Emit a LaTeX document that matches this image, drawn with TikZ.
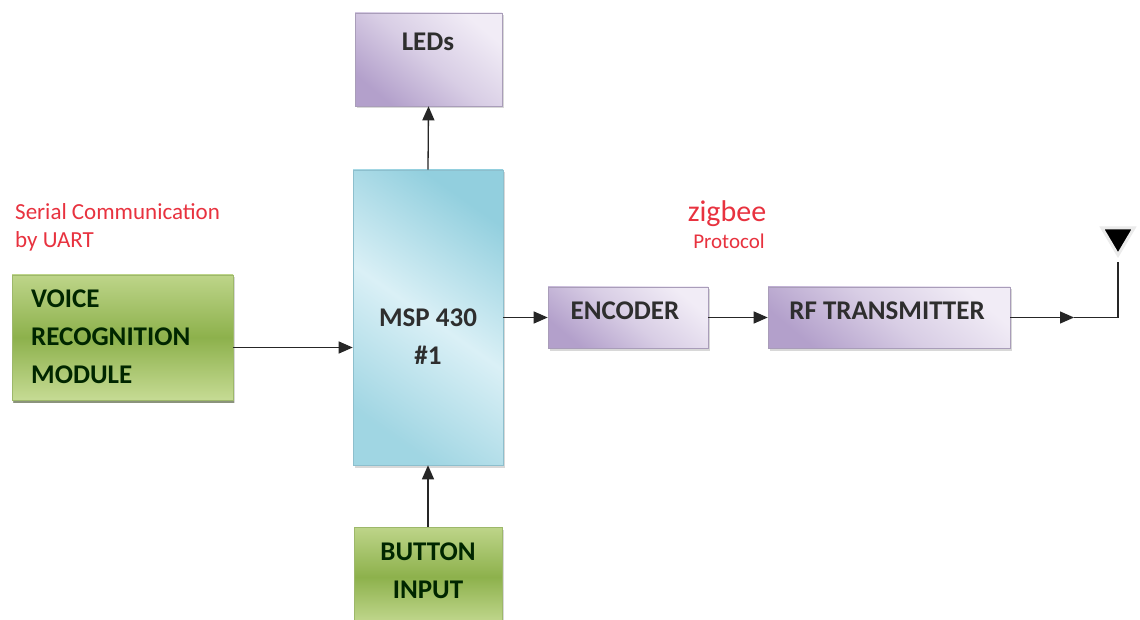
\documentclass[tikz,border=0pt]{standalone}
\usepackage{fontspec}
\setmainfont{Carlito}
\usetikzlibrary{arrows.meta,shadows}
\definecolor{purpEdge}{HTML}{B3A0CB}
\definecolor{purpIn}{HTML}{F1ECF6}
\definecolor{purpLine}{HTML}{A99DB9}
\definecolor{grnA}{HTML}{8DB14C}
\definecolor{grnB}{HTML}{C6DB94}
\definecolor{grnLine}{HTML}{9DB86A}
\definecolor{cyA}{HTML}{DAF0F6}
\definecolor{cyB}{HTML}{92CFDE}
\definecolor{cyLine}{HTML}{8DBFCD}
\definecolor{txt}{HTML}{2E2E2E}
\definecolor{redtxt}{HTML}{E8323F}
\begin{document}
\begin{tikzpicture}[x=1pt,y=-1pt,
  box/.style={rectangle, inner sep=0pt, line width=0.6pt,
    drop shadow={shadow xshift=2pt, shadow yshift=-2.5pt, fill=black!30}},
  purpbox/.style={box, draw=purpLine, top color=purpIn, bottom color=purpEdge, middle color=purpIn!60!purpEdge, shading angle=-40},
  grnbox/.style={box, draw=grnLine, top color=grnB!85!grnA, bottom color=grnB, middle color=grnA},
  cybox/.style={box, draw=cyLine, top color=cyB, bottom color=cyB!80!cyA, middle color=cyA, shading angle=-35},
  boxtext/.style={font=\fontsize{27}{38}\selectfont\bfseries, text=txt, inner sep=0pt, align=center},
  redtext/.style={text=redtxt, inner sep=0pt},
  arr/.style={line width=1.3pt, draw=black!85, -{Triangle[length=14pt,width=12pt]}},
  wire/.style={line width=1.3pt, draw=black!85}
]
\useasboundingbox[fill=white] (0,0) rectangle (1140,620);

% boxes
\node[purpbox, minimum width=147pt, minimum height=93pt] (leds) at (428.5,59.5) {};
\node[cybox, minimum width=150pt, minimum height=295pt] (msp) at (428,317.5) {};
\node[grnbox, minimum width=221pt, minimum height=125pt,
  drop shadow={shadow xshift=1pt, shadow yshift=-3pt, fill=black!55!grnA}] (voice) at (122.5,337.5) {};
\node[grnbox, minimum width=148pt, minimum height=100pt] (button) at (428,577) {};
\node[purpbox, minimum width=160pt, minimum height=61pt] (enc) at (628,317.5) {};
\node[purpbox, minimum width=242pt, minimum height=61pt] (rf) at (889,317.5) {};

% box texts
\node[boxtext] (ledsT) at (428,42) {LEDs};
\node[boxtext] (mspT) at (428,337) {MSP 430\\\#1};
\node[boxtext, align=left, anchor=west, text=black!85!green] (voiceT) at (31,337) {VOICE\\RECOGNITION\\MODULE};
\node[boxtext, text=black!85!green] (buttonT) at (428,571) {BUTTON\\INPUT};
\node[boxtext] (encT) at (625,311) {ENCODER};
\node[boxtext] (rfT) at (887,311) {RF TRANSMITTER};

% red labels
\node[redtext, anchor=base west, font=\fontsize{23}{26}\selectfont] (ser1) at (15,220) {Serial Communication};
\node[redtext, anchor=base west, font=\fontsize{23}{26}\selectfont] (ser2) at (15,248) {by UART};
\node[redtext, font=\fontsize{30}{32}\selectfont] (zig) at (727,214) {zigbee};
\node[redtext, font=\fontsize{21}{24}\selectfont] (proto) at (729,241) {Protocol};

% antenna
\coordinate (mid) at (1074,317.5);
\coordinate (corner) at (1118,317.5);
\coordinate (ant) at (1118,262);
\draw[fill=black, draw=black!8, line width=3pt, line join=miter]
  (1102,228) -- (1134,228) -- (1118,255) -- cycle;

% connectors
\coordinate (vin) at ([yshift=-10pt]voice.east);
\draw[arr] (vin) -- (vin -| msp.west);
\draw[arr] (msp.east |- enc.west) -- (enc.west);
\draw[arr] (enc.east) -- (rf.west);
\draw[arr] (rf.east) -- (mid);
\draw[wire] (mid) -- (corner) -- (ant);
\draw[arr] (msp.north) -- (leds.south);
\draw[arr] (button.north) -- (msp.south);
\end{tikzpicture}
\end{document}
